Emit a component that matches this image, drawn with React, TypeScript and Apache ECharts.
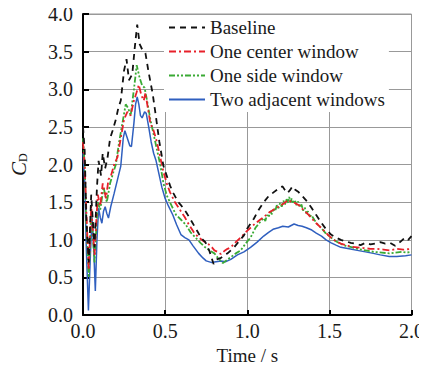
import React, { useEffect, useRef } from "react";
import * as echarts from "echarts";

const FONT = "Liberation Serif";

const seriesNames = ["Baseline", "One center window", "One side window", "Two adjacent windows"];
const xTicks = [0, 0.5, 1.0, 1.5, 2.0];
const yTicks = [0, 0.5, 1, 1.5, 2, 2.5, 3, 3.5, 4];

const baseline: number[][] = [
  [0, 2.5], [0.01, 2.2], [0.02, 1.3], [0.035, 0.7], [0.05, 1.6], [0.07, 0.9], [0.085, 1.7], [0.095, 2.05],
  [0.11, 1.85], [0.12, 2.15], [0.135, 1.95], [0.15, 2.1], [0.165, 2.35], [0.18, 2.45], [0.2, 2.6], [0.215, 2.75],
  [0.23, 2.85], [0.25, 3.25], [0.265, 3.4], [0.28, 3.12], [0.3, 3.2], [0.315, 3.55], [0.33, 3.86], [0.345, 3.6],
  [0.36, 3.53], [0.38, 3.48], [0.4, 3.22], [0.425, 2.93], [0.445, 2.62], [0.465, 2.3], [0.49, 1.98], [0.51, 1.85],
  [0.53, 1.72], [0.55, 1.62], [0.58, 1.5], [0.6, 1.45], [0.63, 1.36], [0.66, 1.25], [0.7, 1.1], [0.72, 1.02],
  [0.745, 0.97], [0.77, 0.85], [0.795, 0.68], [0.815, 0.74], [0.84, 0.76], [0.86, 0.8], [0.88, 0.82], [0.9, 0.86],
  [0.92, 0.9], [0.95, 0.98], [0.98, 1.06], [1.0, 1.15], [1.04, 1.28], [1.07, 1.4], [1.1, 1.5], [1.13, 1.58],
  [1.16, 1.63], [1.19, 1.68], [1.215, 1.71], [1.23, 1.66], [1.245, 1.62], [1.26, 1.66], [1.275, 1.71], [1.29, 1.67],
  [1.31, 1.64], [1.335, 1.58], [1.36, 1.52], [1.39, 1.43], [1.42, 1.33], [1.45, 1.23], [1.48, 1.14], [1.51, 1.07],
  [1.54, 1.03], [1.57, 1.0], [1.6, 0.98], [1.63, 0.96], [1.66, 0.95], [1.69, 0.93], [1.72, 0.96], [1.75, 0.94],
  [1.78, 0.95], [1.81, 0.97], [1.84, 0.95], [1.87, 0.96], [1.9, 0.92], [1.93, 0.97], [1.96, 1.03], [1.98, 1.0], [2.0, 1.05],
];

const centerWindow: number[][] = [
  [0, 2.3], [0.01, 2.0], [0.02, 1.4], [0.035, 0.6], [0.05, 1.45], [0.07, 0.8], [0.09, 1.6], [0.105, 1.45],
  [0.12, 1.75], [0.14, 1.55], [0.155, 1.8], [0.17, 1.85], [0.19, 2.0], [0.21, 2.1], [0.23, 2.35], [0.25, 2.6],
  [0.27, 2.7], [0.29, 2.65], [0.31, 2.85], [0.325, 2.95], [0.34, 3.06], [0.355, 2.92], [0.37, 2.85], [0.38, 2.95],
  [0.395, 2.75], [0.41, 2.55], [0.43, 2.45], [0.45, 2.3], [0.47, 2.1], [0.49, 1.9], [0.51, 1.75], [0.53, 1.63],
  [0.56, 1.5], [0.59, 1.4], [0.62, 1.3], [0.645, 1.2], [0.675, 1.1], [0.705, 1.03], [0.735, 0.98], [0.765, 0.94],
  [0.785, 0.9], [0.8, 0.86], [0.82, 0.84], [0.84, 0.81], [0.86, 0.85], [0.88, 0.88], [0.9, 0.9], [0.93, 0.97],
  [0.96, 1.03], [0.99, 1.1], [1.02, 1.16], [1.05, 1.22], [1.08, 1.27], [1.1, 1.3], [1.13, 1.36], [1.16, 1.4],
  [1.19, 1.44], [1.22, 1.48], [1.25, 1.53], [1.27, 1.5], [1.29, 1.49], [1.315, 1.46], [1.34, 1.4], [1.37, 1.34],
  [1.395, 1.28], [1.42, 1.22], [1.45, 1.16], [1.48, 1.09], [1.51, 1.03], [1.54, 0.98], [1.57, 0.95], [1.6, 0.93],
  [1.63, 0.91], [1.67, 0.9], [1.71, 0.89], [1.75, 0.88], [1.79, 0.88], [1.83, 0.87], [1.87, 0.86], [1.91, 0.88],
  [1.95, 0.87], [2.0, 0.88],
];

const sideWindow: number[][] = [
  [0, 2.35], [0.01, 2.0], [0.02, 1.2], [0.035, 0.5], [0.05, 1.4], [0.07, 0.7], [0.09, 1.5], [0.105, 1.4],
  [0.125, 1.7], [0.145, 1.5], [0.165, 1.75], [0.185, 1.9], [0.2, 2.0], [0.22, 2.3], [0.24, 2.55], [0.26, 2.8],
  [0.275, 2.75], [0.29, 2.65], [0.31, 3.0], [0.327, 3.32], [0.345, 3.15], [0.36, 3.05], [0.375, 3.02], [0.39, 2.85],
  [0.41, 2.6], [0.43, 2.4], [0.45, 2.2], [0.47, 2.0], [0.49, 1.75], [0.51, 1.59], [0.54, 1.45], [0.567, 1.33],
  [0.6, 1.26], [0.626, 1.2], [0.655, 1.1], [0.685, 1.03], [0.715, 0.96], [0.744, 0.9], [0.77, 0.86], [0.8, 0.82],
  [0.825, 0.75], [0.852, 0.69], [0.875, 0.73], [0.9, 0.77], [0.93, 0.82], [0.96, 0.86], [0.99, 0.95], [1.02, 1.03],
  [1.05, 1.16], [1.08, 1.24], [1.1, 1.29], [1.11, 1.25], [1.12, 1.33], [1.13, 1.3], [1.14, 1.38], [1.15, 1.34],
  [1.16, 1.42], [1.17, 1.38], [1.18, 1.46], [1.19, 1.42], [1.2, 1.49], [1.21, 1.44], [1.22, 1.52], [1.23, 1.47],
  [1.24, 1.54], [1.25, 1.49], [1.255, 1.57], [1.265, 1.5], [1.27, 1.55], [1.28, 1.48], [1.29, 1.53], [1.3, 1.46],
  [1.31, 1.51], [1.32, 1.43], [1.33, 1.47], [1.34, 1.39], [1.35, 1.43], [1.36, 1.35], [1.37, 1.38], [1.38, 1.3],
  [1.39, 1.33], [1.41, 1.26], [1.43, 1.2], [1.45, 1.16], [1.48, 1.08], [1.51, 1.03], [1.54, 0.98], [1.57, 0.945],
  [1.6, 0.92], [1.64, 0.9], [1.67, 0.88], [1.72, 0.86], [1.77, 0.84], [1.82, 0.83], [1.865, 0.82], [1.9, 0.83],
  [1.94, 0.84], [1.97, 0.83], [2.0, 0.84],
];

const adjacentWindows: number[][] = [
  [0, 2.15], [0.01, 1.8], [0.02, 0.9], [0.033, 0.06], [0.045, 0.8], [0.055, 1.3], [0.065, 0.9], [0.075, 0.32],
  [0.085, 1.0], [0.095, 1.42], [0.105, 1.3], [0.115, 1.22], [0.125, 1.38], [0.135, 1.44], [0.145, 1.35], [0.155, 1.29],
  [0.17, 1.45], [0.19, 1.62], [0.21, 1.8], [0.23, 1.98], [0.245, 2.35], [0.255, 2.45], [0.27, 2.35], [0.285, 2.25],
  [0.295, 2.24], [0.31, 2.55], [0.32, 2.8], [0.33, 2.9], [0.34, 2.8], [0.35, 2.65], [0.36, 2.62], [0.375, 2.7],
  [0.385, 2.68], [0.4, 2.5], [0.415, 2.3], [0.43, 2.15], [0.445, 2.05], [0.46, 1.9], [0.48, 1.7], [0.5, 1.55],
  [0.52, 1.45], [0.547, 1.33], [0.57, 1.2], [0.596, 1.07], [0.62, 1.03], [0.645, 1.0], [0.67, 0.92], [0.704, 0.82],
  [0.73, 0.76], [0.75, 0.72], [0.78, 0.7], [0.81, 0.71], [0.84, 0.72], [0.87, 0.71], [0.9, 0.74], [0.94, 0.8],
  [0.98, 0.84], [1.02, 0.9], [1.06, 0.97], [1.1, 1.05], [1.13, 1.1], [1.157, 1.14], [1.19, 1.16], [1.216, 1.18],
  [1.25, 1.17], [1.285, 1.21], [1.31, 1.19], [1.334, 1.18], [1.36, 1.16], [1.393, 1.13], [1.42, 1.09], [1.452, 1.05],
  [1.48, 1.0], [1.511, 0.96], [1.54, 0.93], [1.57, 0.9], [1.62, 0.88], [1.67, 0.86], [1.72, 0.84], [1.767, 0.82],
  [1.81, 0.8], [1.865, 0.78], [1.91, 0.78], [1.964, 0.79], [2.0, 0.8],
];

const seriesData = [baseline, centerWindow, sideWindow, adjacentWindows];
const colors = ["#111111", "#e8202a", "#3aaa35", "#2f5fbf"];
const dashes: any[] = [[6, 5], [7, 3, 2, 3], [6, 2, 2, 2, 2, 2], "solid"];

export default function App() {
  const ref = useRef<HTMLDivElement>(null);
  useEffect(() => {
    if (!ref.current) return;
    const chart = echarts.init(ref.current, null, { renderer: "svg" });
    chart.setOption({
      animation: false,
      grid: {
        left: 74, right: 14, top: 14, bottom: 47,
        show: true, borderColor: "#999999", borderWidth: 1,
      },
      legend: {
        orient: "vertical",
        left: 164, top: 15,
        padding: [3, 4, 3, 4],
        backgroundColor: "#ffffff",
        itemGap: 5,
        itemWidth: 36,
        itemHeight: 20,
        itemStyle: { opacity: 0, borderWidth: 0 },
        data: seriesNames,
        textStyle: { fontFamily: FONT, fontSize: 19, color: "#1a1a1a" },
      },
      xAxis: {
        type: "value", min: 0, max: 2, interval: 0.5,
        name: "Time / s", nameLocation: "middle", nameGap: 27,
        nameTextStyle: { fontFamily: FONT, fontSize: 19, color: "#1a1a1a" },
        axisLine: { show: true, onZero: false, lineStyle: { color: "#000", width: 2 } },
        axisTick: { show: true, inside: true, length: 5, lineStyle: { color: "#000", width: 2 } },
        axisLabel: {
          fontFamily: FONT, fontSize: 20, color: "#1a1a1a", margin: 6,
          formatter: (v: number) => (xTicks.includes(v) ? v.toFixed(1) : ""),
        },
        splitLine: { show: true, lineStyle: { color: "#999999", width: 1 } },
      },
      yAxis: {
        type: "value", min: 0, max: 4, interval: 0.5,
        name: "{i|C}{s|D}", nameLocation: "middle", nameGap: 54, nameRotate: 90,
        nameTextStyle: {
          fontFamily: FONT,
          rich: {
            i: { fontFamily: FONT, fontStyle: "italic", fontSize: 21, color: "#1a1a1a" },
            s: { fontFamily: FONT, fontSize: 12, color: "#1a1a1a", padding: [8, 0, 0, 0] },
          },
        },
        axisLine: { show: true, onZero: false, lineStyle: { color: "#000", width: 2 } },
        axisTick: { show: true, inside: true, length: 6, lineStyle: { color: "#000", width: 2 } },
        axisLabel: {
          fontFamily: FONT, fontSize: 20, color: "#1a1a1a", margin: 10,
          formatter: (v: number) => (yTicks.includes(v) ? v.toFixed(1) : ""),
        },
        splitLine: { show: true, lineStyle: { color: "#999999", width: 1 } },
      },
      series: seriesNames.map((name, i) => ({
        name,
        type: "line",
        data: seriesData[i],
        symbol: "none",
        showSymbol: false,
        z: 10 - i,
        color: colors[i],
        lineStyle: { color: colors[i], width: i === 3 ? 1.5 : 1.8, type: dashes[i] },
      })),
    });
    return () => chart.dispose();
  }, []);
  return <div ref={ref} style={{ width: 427, height: 370, margin: -8 }} />;
}
